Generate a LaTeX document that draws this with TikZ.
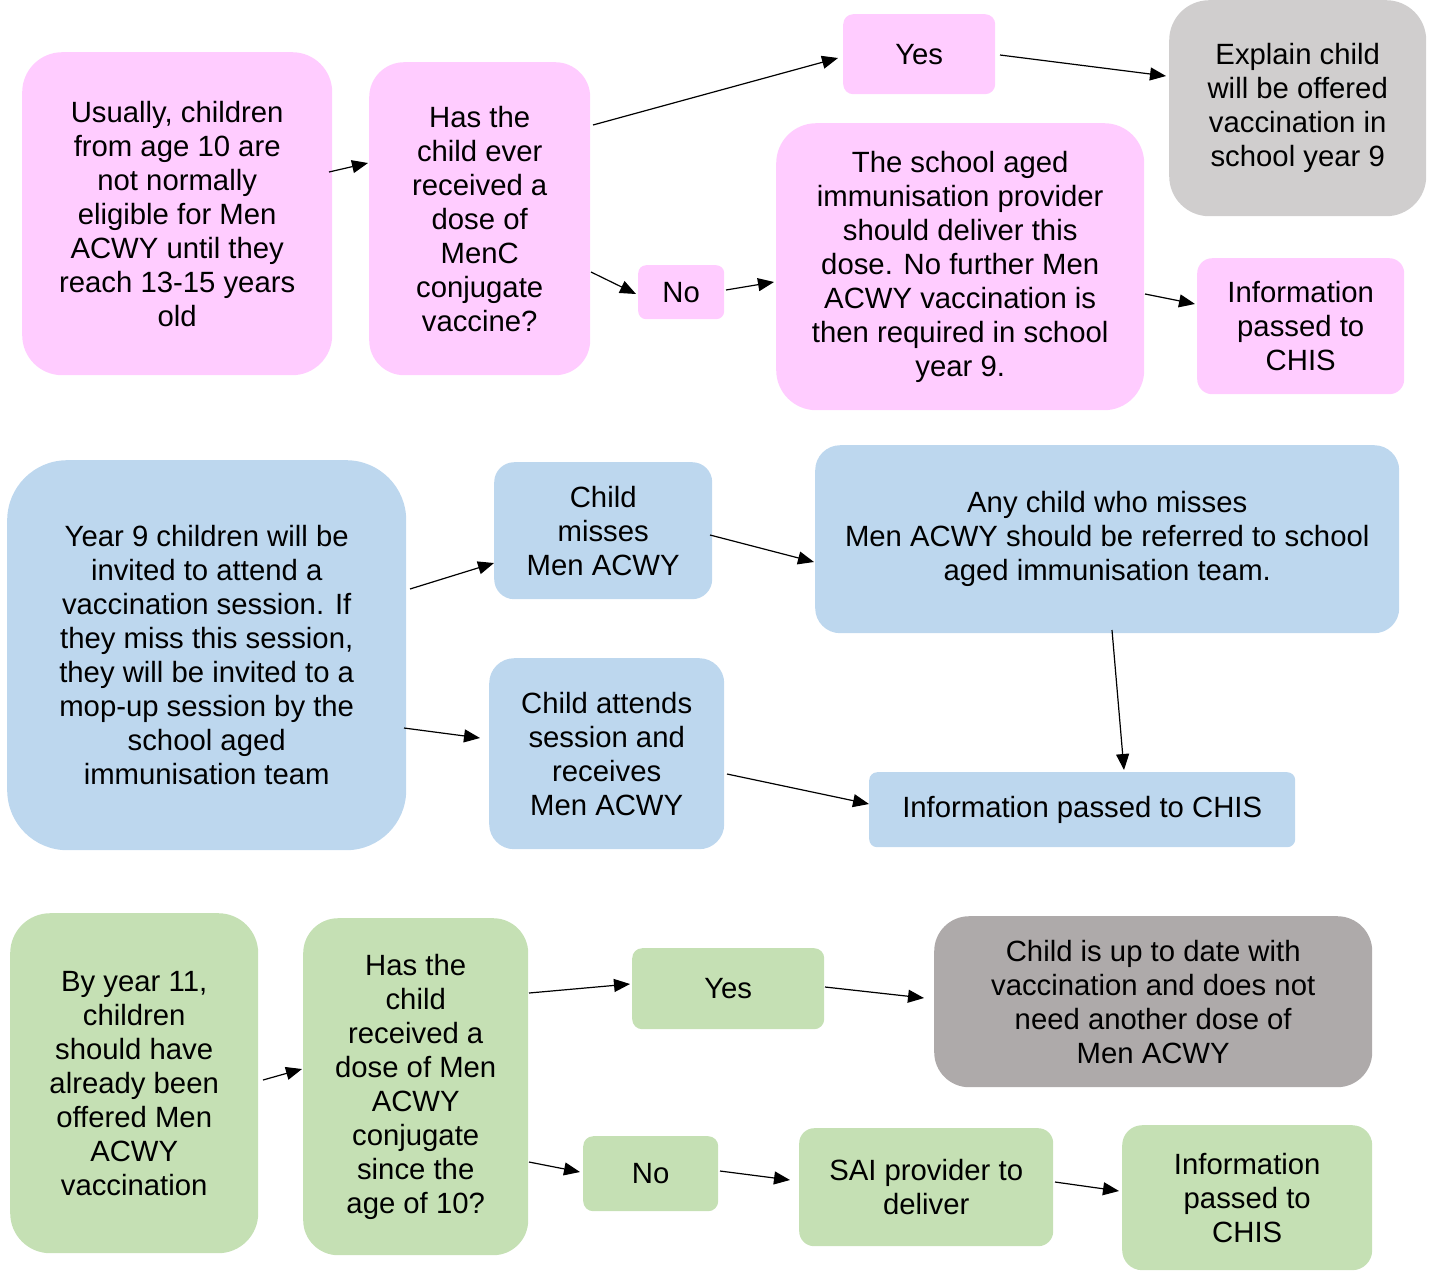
\documentclass[tikz,border=0pt]{standalone}
\usepackage{fontspec}
\setmainfont{Liberation Sans}
\usetikzlibrary{arrows.meta,calc}
\definecolor{cpink}{HTML}{FFCCFF}
\definecolor{cgray}{HTML}{D0CECE}
\definecolor{cblue}{HTML}{BDD7EE}
\definecolor{cgreen}{HTML}{C5E0B4}
\definecolor{cdgray}{HTML}{AEAAAA}
\tikzset{
  box/.style={anchor=north west, inner sep=0pt, align=center, draw=none,
    font=\fontsize{29.3}{34}\selectfont},
  conn/.style={line width=1.2pt, -{Triangle[length=16pt,width=13pt]}},
}
\begin{document}
\begin{tikzpicture}[x=1pt,y=-1pt]
\useasboundingbox (0,0) rectangle (1431,1275);
% Row 1
\node[box, fill=cpink, minimum width=310pt, minimum height=323pt, rounded corners=40pt] (A) at (22,52)
 {Usually, children\\from age 10 are\\not normally\\eligible for Men\\ACWY until they\\reach 13-15 years\\old};
\node[box, fill=cpink, minimum width=221pt, minimum height=313pt, rounded corners=35pt] (B) at (369,62)
 {Has the\\child ever\\received a\\dose of\\MenC\\conjugate\\vaccine?};
\node[box, fill=cpink, minimum width=152pt, minimum height=80pt, rounded corners=10pt] (Y1) at (843,14) {Yes};
\node[box, fill=cpink, minimum width=86pt, minimum height=54pt, rounded corners=8pt] (N1) at (638,265) {No};
\node[box, fill=cpink, minimum width=368pt, minimum height=287pt, rounded corners=40pt] (C) at (776,123)
 {The school aged\\immunisation provider\\should deliver this\\dose. No further Men\\ACWY vaccination is\\then required in school\\year 9.};
\node[box, fill=cgray, minimum width=257pt, minimum height=216pt, rounded corners=40pt] (X) at (1169,0)
 {Explain child\\will be offered\\vaccination in\\school year 9};
\node[box, fill=cpink, minimum width=207pt, minimum height=136pt, rounded corners=15pt] (I1) at (1197,258)
 {Information\\passed to\\CHIS};
% Row 2
\node[box, fill=cblue, minimum width=399pt, minimum height=390pt, rounded corners=60pt] (D) at (7,460)
 {Year 9 children will be\\invited to attend a\\vaccination session. If\\they miss this session,\\they will be invited to a\\mop-up session by the\\school aged\\immunisation team};
\node[box, fill=cblue, minimum width=218pt, minimum height=137pt, rounded corners=20pt] (M) at (494,462)
 {Child\\misses\\Men ACWY};
\node[box, fill=cblue, minimum width=584pt, minimum height=188pt, rounded corners=25pt] (R) at (815,445)
 {Any child who misses\\Men ACWY should be referred to school\\aged immunisation team.};
\node[box, fill=cblue, minimum width=235pt, minimum height=191pt, rounded corners=25pt] (T) at (489,658)
 {Child attends\\session and\\receives\\Men ACWY};
\node[box, fill=cblue, minimum width=426pt, minimum height=75pt, rounded corners=8pt] (I2) at (869,772)
 {Information passed to CHIS};
% Row 3
\node[box, fill=cgreen, minimum width=248pt, minimum height=340pt, rounded corners=40pt] (E) at (10,913)
 {By year 11,\\children\\should have\\already been\\offered Men\\ACWY\\vaccination};
\node[box, fill=cgreen, minimum width=225pt, minimum height=337pt, rounded corners=35pt] (F) at (303,918)
 {Has the\\child\\received a\\dose of Men\\ACWY\\conjugate\\since the\\age of 10?};
\node[box, fill=cgreen, minimum width=192pt, minimum height=81pt, rounded corners=10pt] (Y3) at (632,948) {Yes};
\node[box, fill=cdgray, minimum width=438pt, minimum height=171pt, rounded corners=35pt] (U) at (934,916)
 {Child is up to date with\\vaccination and does not\\need another dose of\\Men ACWY};
\node[box, fill=cgreen, minimum width=135pt, minimum height=75pt, rounded corners=10pt] (N3) at (583,1136) {No};
\node[box, fill=cgreen, minimum width=254pt, minimum height=118pt, rounded corners=15pt] (S) at (799,1128)
 {SAI provider to\\deliver};
\node[box, fill=cgreen, minimum width=250pt, minimum height=145pt, rounded corners=20pt] (I3) at (1122,1125)
 {Information\\passed to\\CHIS};
% Connectors row 1
\draw[conn] ($(A.north west)+(307,120)$) -- ($(B.north west)+(-1,101)$);
\draw[conn] ($(B.north west)+(224,63)$) -- ($(Y1.north west)+(-5,44)$);
\draw[conn] ($(B.north west)+(222,210)$) -- ($(N1.north west)+(-2,29)$);
\draw[conn] ($(Y1.north west)+(157,41)$) -- ($(X.north west)+(-3,76)$);
\draw[conn] ($(N1.north west)+(88,25)$) -- ($(C.north west)+(-2,159)$);
\draw[conn] ($(C.north west)+(369,171)$) -- ($(I1.north west)+(-2,46)$);
% Connectors row 2
\draw[conn] ($(D.north west)+(403,129)$) -- ($(M.north west)+(0,101)$);
\draw[conn] ($(D.north west)+(397,268)$) -- ($(T.north west)+(-9,80)$);
\draw[conn] ($(M.north west)+(216,73)$) -- ($(R.north west)+(-1,117)$);
\draw[conn] ($(R.north west)+(297,185)$) -- ($(I2.north west)+(255,-2)$);
\draw[conn] ($(T.north west)+(238,116)$) -- ($(I2.north west)+(0,32)$);
% Connectors row 3
\draw[conn] ($(E.north west)+(253,167)$) -- ($(F.north west)+(-1,151)$);
\draw[conn] ($(F.north west)+(226,75)$) -- ($(Y3.north west)+(-2,36)$);
\draw[conn] ($(F.north west)+(226,244)$) -- ($(N3.north west)+(-3,36)$);
\draw[conn] ($(Y3.north west)+(193,39)$) -- ($(U.north west)+(-10,82)$);
\draw[conn] ($(N3.north west)+(137,35)$) -- ($(S.north west)+(-9,52)$);
\draw[conn] ($(S.north west)+(256,54)$) -- ($(I3.north west)+(-3,66)$);
\end{tikzpicture}
\end{document}
